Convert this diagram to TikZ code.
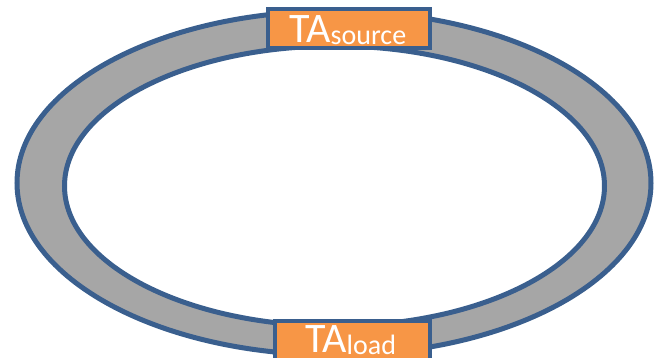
\documentclass[tikz,border=0pt]{standalone}
\usepackage{fontspec}
\setmainfont{Carlito}
\definecolor{ringline}{HTML}{3A5F8E}
\definecolor{ringfill}{HTML}{A6A6A6}
\definecolor{tabfill}{HTML}{F79646}
\tikzset{
  ring/.style={draw=ringline, line width=5pt},
  tab/.style={draw=ringline, line width=4.5pt, fill=tabfill, rectangle, inner sep=0pt},
  tabtext/.style={anchor=base west, inner sep=0pt, text=white}
}
\newcommand{\bigTA}{\fontsize{42}{42}\selectfont TA}
\newcommand{\subtxt}[1]{\raisebox{-2.5pt}{\fontsize{28}{28}\selectfont #1}}
\begin{document}
\begin{tikzpicture}[x=1pt, y=-1pt]
  \useasboundingbox (0,0) rectangle (654,357);
  % grey band between the two ellipses
  \fill[ringfill, even odd rule]
    (334,183) ellipse [x radius=317, y radius=172]
    (334.5,186) ellipse [x radius=270, y radius=140];
  \draw[ring] (334,183) ellipse [x radius=317, y radius=172];
  \draw[ring] (334.5,186) ellipse [x radius=270, y radius=140];
  % orange tabs on the ring
  \node[tab, minimum width=162pt, minimum height=39pt] (src) at (349,28.5) {};
  \node[tab, minimum width=155pt, minimum height=40pt] (load) at (352.5,341) {};
  \node[tabtext] (srclabel) at (289,42) {\bigTA\subtxt{source}};
  \node[tabtext] (loadlabel) at (305,352) {\bigTA\subtxt{load}};
\end{tikzpicture}
\end{document}
